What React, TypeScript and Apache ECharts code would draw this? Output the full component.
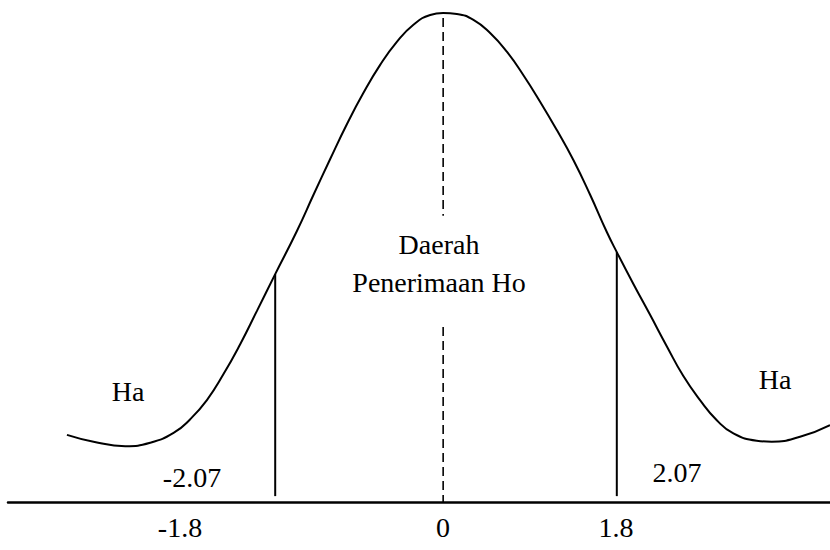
import React, { useEffect, useRef } from "react";
import * as echarts from "echarts";

// Curve (x in z-units, y = relative height above the axis)
const curveX = [
  -4.556, -4.234, -3.85, -3.547, -3.265, -3.063, -2.861, -2.66, -2.458, -2.255, -2.034,
  -1.771, -1.57, -1.368, -1.166, -0.965, -0.763, -0.561, -0.36, -0.157, 0,
  0.166, 0.367, 0.569, 0.771, 0.972, 1.174, 1.377, 1.577, 1.78, 1.982, 2.103,
  2.304, 2.506, 2.708, 2.909, 3.111, 3.314, 3.515, 3.798, 3.979, 4.322, 4.685,
];
const curveY = [
  0.137, 0.123, 0.114, 0.121, 0.141, 0.169, 0.208, 0.261, 0.322, 0.39, 0.465,
  0.553, 0.627, 0.7, 0.771, 0.835, 0.892, 0.939, 0.974, 0.994, 0.998,
  0.996, 0.984, 0.957, 0.919, 0.871, 0.817, 0.759, 0.698, 0.627, 0.551, 0.51,
  0.445, 0.382, 0.318, 0.257, 0.208, 0.167, 0.14, 0.125, 0.123, 0.133, 0.157,
];

// Critical boundary lines
const critX = [-2.034, 2.103];
const critTop = [0.465, 0.51];
const critBottom = 0.012;

// Centre dashed line segments
const centerTop = [0.988, 0.584];
const centerBottom = [0.357, 0];

// Texts
const tickLabels = ["-1.8", "0", "1.8"];
const critLabels = ["-2.07", "2.07"];
const regionLabels = ["Daerah", "Penerimaan Ho"];
const tailLabels = ["Ha", "Ha"];

export default function App() {
  const ref = useRef<HTMLDivElement>(null);
  useEffect(() => {
    if (!ref.current) return;
    const chart = echarts.init(ref.current, null, { renderer: "svg" });
    const txt = (text: string, x: number, y: number) => ({
      type: "text",
      x,
      y,
      style: {
        text,
        fontFamily: "Liberation Serif",
        fontSize: 28,
        fill: "#000",
        textAlign: "center",
        textVerticalAlign: "middle",
      },
    });
    const black = { color: "#000" };
    chart.setOption({
      animation: false,
      backgroundColor: "#fff",
      grid: { left: 8, right: 0, top: 12, bottom: 48 },
      xAxis: {
        type: "value",
        min: -5.27,
        max: 4.685,
        axisLine: { show: true, onZero: false, lineStyle: { color: "#000", width: 2.5 } },
        axisTick: { show: false },
        axisLabel: { show: false },
        splitLine: { show: false },
      },
      yAxis: { type: "value", min: 0, max: 1, show: false },
      series: [
        {
          type: "line",
          data: curveX.map((x, i) => [x, curveY[i]]),
          smooth: true,
          symbol: "none",
          lineStyle: { ...black, width: 2 },
          itemStyle: black,
        },
        ...critX.map((x, i) => ({
          type: "line",
          data: [[x, critBottom], [x, critTop[i]]],
          symbol: "none",
          lineStyle: { ...black, width: 2 },
          itemStyle: black,
        })),
        {
          type: "line",
          data: [[0, centerTop[0]], [0, centerTop[1]]],
          symbol: "none",
          lineStyle: { ...black, width: 1.6, type: [9, 5] },
          itemStyle: black,
        },
        {
          type: "line",
          data: [[0, centerBottom[0]], [0, centerBottom[1]]],
          symbol: "none",
          lineStyle: { ...black, width: 1.6, type: [9, 5] },
          itemStyle: black,
        },
      ],
      graphic: [
        txt(tickLabels[0], 180, 527),
        txt(tickLabels[1], 443, 527),
        txt(tickLabels[2], 616, 527),
        txt(critLabels[0], 192, 477),
        txt(critLabels[1], 677, 472),
        txt(regionLabels[0], 439, 244),
        txt(regionLabels[1], 439, 282),
        txt(tailLabels[0], 128, 391),
        txt(tailLabels[1], 775, 379),
      ],
    });
    return () => chart.dispose();
  }, []);
  return (
    <div
      ref={ref}
      style={{ position: "fixed", left: 0, top: 0, width: 830, height: 550, background: "#fff" }}
    />
  );
}
